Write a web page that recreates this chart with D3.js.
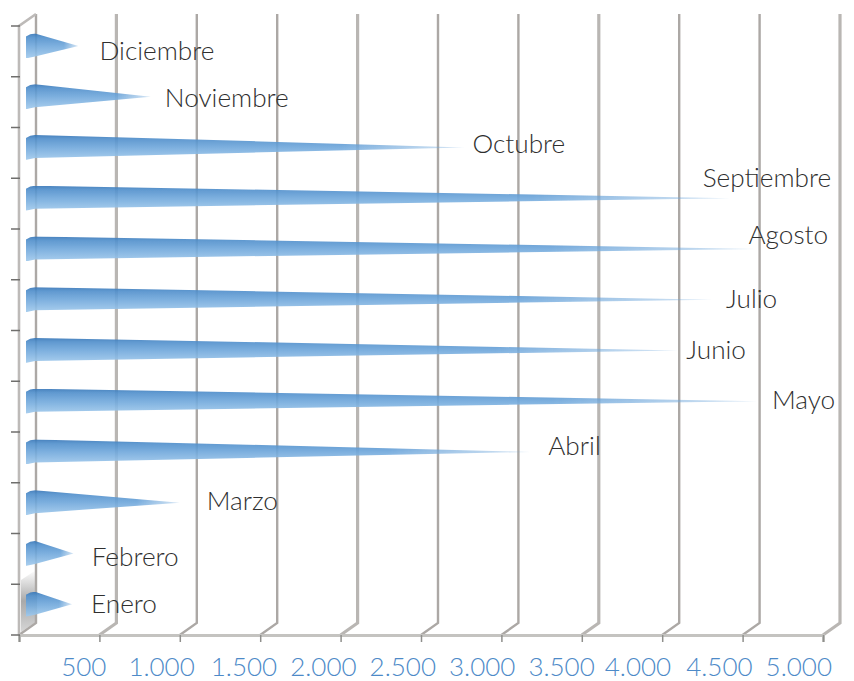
<!DOCTYPE html>
<html>
<head>
<meta charset="utf-8">
<script src="https://cdn.jsdelivr.net/npm/d3@7"></script>
<style>
html, body { margin: 0; padding: 0; background: #fff; }
svg { display: block; }
text { font-family: Lato, "Open Sans", sans-serif; font-weight: 300; }
</style>
</head>
<body>
<svg id="chart" width="854" height="681"></svg>
<script>
// values, bottom to top
var months = ["Enero", "Febrero", "Marzo", "Abril", "Mayo", "Junio", "Julio", "Agosto", "Septiembre", "Octubre", "Noviembre", "Diciembre"];
var visits = [280, 290, 950, 3130, 4540, 4050, 4260, 4530, 4370, 2720, 770, 320];
var xTicks = [500, 1000, 1500, 2000, 2500, 3000, 3500, 4000, 4500, 5000];
var xTickLabels = ["500", "1.000", "1.500", "2.000", "2.500", "3.000", "3.500", "4.000", "4.500", "5.000"];

// hand placed labels: month labels relative to the tip of each cone, tick labels to the tick
var labelDx = [19, 18, 27, 18, 15, 8, 14, -7, -27, 8, 14, 21];
var labelDy = [9, 13, 7, 3, 8, 9, 8, -5, -11, 6, 10, 14];
var tickLabelDx = [7, 15, 17, 16, 15, 14, 13, 9, 10, 9];

var depthX = 17, depthY = -12;
var floorY = 635, topY = 26;
var radius = 12.5;

var svg = d3.select("#chart");
var defs = svg.append("defs");

var xScale = d3.scaleLinear().domain([0, 5000]).range([19, 823]);
var yScale = d3.scaleBand().domain(months).range([floorY, topY]);

// bar fill: dark top edge, paler underneath
var coneFill = defs.append("linearGradient").attr("id", "coneFill")
    .attr("x1", 0).attr("y1", 0).attr("x2", 0).attr("y2", 1);
coneFill.append("stop").attr("offset", 0).attr("stop-color", "#3474b6");
coneFill.append("stop").attr("offset", 0.16).attr("stop-color", "#4f8ecb");
coneFill.append("stop").attr("offset", 0.5).attr("stop-color", "#6fa7db");
coneFill.append("stop").attr("offset", 1).attr("stop-color", "#a0c9ec");

// tip of the cone fades out
var fade = defs.append("linearGradient").attr("id", "coneFade")
    .attr("x1", 0).attr("y1", 0).attr("x2", 1).attr("y2", 0);
fade.append("stop").attr("offset", 0).attr("stop-color", "#fff");
fade.append("stop").attr("offset", 0.72).attr("stop-color", "#fff");
fade.append("stop").attr("offset", 1).attr("stop-color", "#fff").attr("stop-opacity", 0.3);
defs.append("mask").attr("id", "coneMask")
    .attr("maskContentUnits", "objectBoundingBox")
    .attr("x", 0).attr("y", 0).attr("width", 1).attr("height", 1)
    .append("rect").attr("width", 1).attr("height", 1).attr("fill", "url(#coneFade)");

// the reference is a soft scan, take the hard edge off the cones
defs.append("filter").attr("id", "soft")
    .attr("x", "-2%").attr("y", "-10%").attr("width", "104%").attr("height", "120%")
    .append("feGaussianBlur").attr("stdDeviation", 0.6);

// dark smudge in the bottom corner of the wall
var corner = defs.append("linearGradient").attr("id", "cornerFill")
    .attr("x1", 0).attr("y1", 0).attr("x2", 0).attr("y2", 1);
corner.append("stop").attr("offset", 0).attr("stop-color", "#fff");
corner.append("stop").attr("offset", 0.5).attr("stop-color", "#a9a9a9");
corner.append("stop").attr("offset", 1).attr("stop-color", "#d6d6d6");

svg.append("path")
    .attr("d", "M21," + (floorY - 3) + "V" + (floorY - 55) + "L36," + (floorY - 65) + "V" + (floorY - 13) + "Z")
    .attr("fill", "url(#cornerFill)");

// back wall gridlines, with the short floor diagonal at the bottom of each
var grid = svg.append("g");
var gridValues = [0].concat(xTicks);
grid.selectAll("path.grid")
    .data(gridValues)
    .enter().append("path")
    .attr("class", "grid")
    .attr("fill", "none")
    .attr("stroke", function (d, i) { return i % 3 == 1 ? "#b9b6b3" : "#aca8a5"; })
    .attr("stroke-width", function (d, i) { return i % 3 == 1 ? 3.2 : 2.4; })
    .attr("d", function (d) {
        var x = xScale(d);
        return "M" + x + "," + floorY + "L" + (x + depthX) + "," + (floorY + depthY) + "V" + (topY + depthY);
    });

// left wall and top diagonal
svg.append("path")
    .attr("fill", "none").attr("stroke", "#bdbab8").attr("stroke-width", 2.6)
    .attr("d", "M" + xScale(0) + "," + floorY + "V" + topY + "L" + (xScale(0) + depthX) + "," + (topY + depthY));

// floor axis
var xAxis = d3.axisBottom(xScale).tickValues(gridValues).tickSize(7).tickFormat("");
var xAxisG = svg.append("g")
    .attr("transform", "translate(0," + floorY + ")")
    .call(xAxis);
xAxisG.select(".domain").attr("stroke", "#c4c3c0").attr("stroke-width", 3);
xAxisG.selectAll(".tick line").attr("stroke", "#8f8f8c").attr("stroke-width", 1.5);

svg.selectAll("text.xlabel")
    .data(xTicks)
    .enter().append("text")
    .attr("class", "xlabel")
    .attr("x", function (d, i) { return xScale(d) + tickLabelDx[i]; })
    .attr("y", 675.5)
    .attr("text-anchor", "end")
    .attr("font-size", 26)
    .attr("fill", "#4d8ac8")
    .text(function (d, i) { return xTickLabels[i]; });

// left axis ticks on the band edges
var yEdges = d3.range(months.length + 1).map(function (i) { return floorY - i * yScale.step(); });
svg.selectAll("line.ytick")
    .data(yEdges)
    .enter().append("line")
    .attr("class", "ytick")
    .attr("x1", 11).attr("x2", 20)
    .attr("y1", function (d) { return d; })
    .attr("y2", function (d) { return d; })
    .attr("stroke", "#6f6e6c")
    .attr("stroke-width", 1.5);

// cones
function coneY(d) {
    return yScale(d.month) + yScale.bandwidth() / 2 - 5.5;
}

function conePath(d) {
    var cy = coneY(d);
    var x0 = xScale(0) + 7;
    var tip = xScale(d.value) + 8;
    var p = d3.path();
    p.moveTo(x0, cy - radius + 3);
    p.quadraticCurveTo(x0 + 4, cy - radius, x0 + 9, cy - radius);
    p.lineTo(tip, cy);
    p.lineTo(x0 + 9, cy + radius - 2);
    p.quadraticCurveTo(x0 + 4, cy + radius - 1, x0, cy + radius);
    p.closePath();
    return p.toString();
}

var bars = months.map(function (m, i) { return { month: m, value: visits[i] }; });

svg.selectAll("g.cone")
    .data(bars)
    .enter().append("g")
    .attr("class", "cone")
    .attr("mask", "url(#coneMask)")
    .append("path")
    .attr("d", conePath)
    .attr("fill", "url(#coneFill)")
    .attr("fill-opacity", 0.9)
    .attr("filter", "url(#soft)");

// month labels
svg.selectAll("text.month")
    .data(bars)
    .enter().append("text")
    .attr("class", "month")
    .attr("x", function (d, i) { return xScale(d.value) + 8 + labelDx[i]; })
    .attr("y", function (d, i) { return coneY(d) + labelDy[i]; })
    .attr("font-size", 26.2)
    .attr("fill", "#2f2f2f")
    .text(function (d) { return d.month; });
</script>
</body>
</html>
